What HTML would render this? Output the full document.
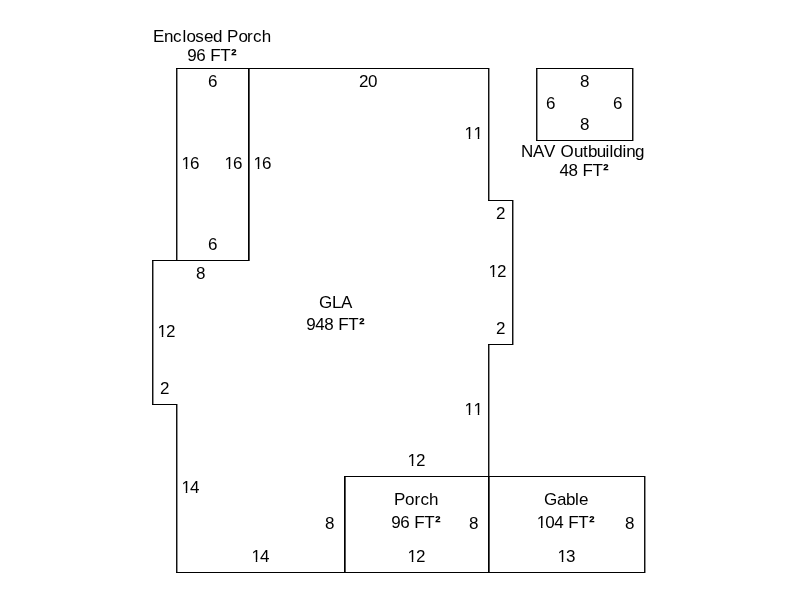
<!DOCTYPE html>
<html lang="en">
<head>
<meta charset="utf-8">
<title>Building Sketch</title>
<style>
html,body{margin:0;padding:0;background:#fff;}
body{width:800px;height:600px;overflow:hidden;}
svg{display:block;}
.walls rect{shape-rendering:crispEdges;}
.labels{filter:grayscale(1);}
.labels text{font-family:"Liberation Sans",Arial,Helvetica,sans-serif;font-size:17px;fill:#000;}
.sq{font-weight:bold;letter-spacing:0;}
</style>
</head>
<body>
<svg width="800" height="600" viewBox="0 0 800 600">
<rect x="0" y="0" width="800" height="600" fill="#ffffff"/>
<defs>
<clipPath id="one0p5_9p5"><rect x="-4" y="-18" width="84" height="15.8"/><rect x="-4" y="-2.2" width="4.49" height="7"/><rect x="4.77" y="-2.2" width="1.5" height="7"/><rect x="13.77" y="-2.2" width="1.5" height="7"/><rect x="19.12" y="-2.2" width="60.88" height="7"/></clipPath>
<clipPath id="one0p5"><rect x="-4" y="-18" width="84" height="15.8"/><rect x="-4" y="-2.2" width="4.49" height="7"/><rect x="4.77" y="-2.2" width="1.5" height="7"/><rect x="10.12" y="-2.2" width="69.88" height="7"/></clipPath>
<clipPath id="one0p75"><rect x="-4" y="-18" width="84" height="15.8"/><rect x="-4" y="-2.2" width="4.74" height="7"/><rect x="5.02" y="-2.2" width="1.5" height="7"/><rect x="10.37" y="-2.2" width="69.63" height="7"/></clipPath>
</defs>
<g class="walls">
<rect x="176" y="68" width="313" height="1" fill="#000000"/>
<rect x="489" y="68" width="1" height="132" fill="#8f8f8f"/>
<rect x="536" y="68" width="97" height="1" fill="#000000"/>
<rect x="633" y="68" width="1" height="73" fill="#8f8f8f"/>
<rect x="176" y="69" width="1" height="191" fill="#111111"/>
<rect x="177" y="69" width="1" height="191" fill="#8f8f8f"/>
<rect x="248" y="69" width="1" height="191" fill="#010101"/>
<rect x="249" y="69" width="1" height="192" fill="#505050"/>
<rect x="488" y="69" width="1" height="131" fill="#111111"/>
<rect x="536" y="69" width="1" height="71" fill="#111111"/>
<rect x="537" y="69" width="1" height="71" fill="#8f8f8f"/>
<rect x="632" y="69" width="1" height="71" fill="#111111"/>
<rect x="536" y="140" width="97" height="1" fill="#000000"/>
<rect x="488" y="200" width="25" height="1" fill="#000000"/>
<rect x="513" y="200" width="1" height="145" fill="#8f8f8f"/>
<rect x="512" y="201" width="1" height="143" fill="#111111"/>
<rect x="152" y="260" width="97" height="1" fill="#000000"/>
<rect x="152" y="261" width="1" height="143" fill="#111111"/>
<rect x="153" y="261" width="1" height="143" fill="#8f8f8f"/>
<rect x="488" y="344" width="25" height="1" fill="#000000"/>
<rect x="488" y="345" width="1" height="131" fill="#111111"/>
<rect x="489" y="345" width="1" height="131" fill="#8f8f8f"/>
<rect x="152" y="404" width="25" height="1" fill="#000000"/>
<rect x="177" y="404" width="1" height="168" fill="#8f8f8f"/>
<rect x="176" y="405" width="1" height="167" fill="#111111"/>
<rect x="344" y="476" width="301" height="1" fill="#000000"/>
<rect x="645" y="476" width="1" height="97" fill="#8f8f8f"/>
<rect x="344" y="477" width="1" height="95" fill="#010101"/>
<rect x="345" y="477" width="1" height="95" fill="#505050"/>
<rect x="488" y="477" width="1" height="95" fill="#010101"/>
<rect x="489" y="477" width="1" height="95" fill="#505050"/>
<rect x="644" y="477" width="1" height="95" fill="#111111"/>
<rect x="176" y="572" width="469" height="1" fill="#000000"/>
</g>
<g class="labels">
<text x="153 164 173 182.5 186.5 195.25 204 213 222 227 238.5 247 253 261.75" y="42">Enclosed Porch</text>
<text x="187.25 196.25 205.25 210.25 220.25" y="61">96 FT<tspan class="sq" x="231">²</tspan></text>
<text x="208" y="87">6</text>
<text x="359 368" y="87">20</text>
<text transform="translate(464 139)" clip-path="url(#one0p5_9p5)" x="0.5 9.5" y="0">11</text>
<text transform="translate(181 169)" clip-path="url(#one0p5)" x="0.5 9" y="0">16</text>
<text transform="translate(224 169)" clip-path="url(#one0p5)" x="0.5 9" y="0">16</text>
<text transform="translate(253 169)" clip-path="url(#one0p5)" x="0.5 9" y="0">16</text>
<text x="208" y="250">6</text>
<text x="196" y="279">8</text>
<text x="496" y="219">2</text>
<text transform="translate(488 277)" clip-path="url(#one0p5)" x="0.5 9" y="0">12</text>
<text x="496" y="334">2</text>
<text x="319 332 341" y="308">GLA</text>
<text x="306.25 315.25 324.25 333.25 338.25 348.25" y="330">948 FT<tspan class="sq" x="359">²</tspan></text>
<text transform="translate(157 337)" clip-path="url(#one0p5)" x="0.5 9" y="0">12</text>
<text x="160" y="394">2</text>
<text transform="translate(464 415)" clip-path="url(#one0p5_9p5)" x="0.5 9.5" y="0">11</text>
<text transform="translate(407 466)" clip-path="url(#one0p5)" x="0.5 9" y="0">12</text>
<text transform="translate(181 493)" clip-path="url(#one0p5)" x="0.5 9" y="0">14</text>
<text x="325" y="529">8</text>
<text x="394 405 414.5 420.5 429" y="505">Porch</text>
<text x="391.25 400.25 409.25 414.25 424.25" y="528">96 FT<tspan class="sq" x="435">²</tspan></text>
<text x="469" y="529">8</text>
<text x="544 557 566 575 579" y="505">Gable</text>
<text transform="translate(536 528)" clip-path="url(#one0p75)" x="0.75 9.25 18.25 27.25 32.25 42.25" y="0">104 FT<tspan class="sq" x="53">²</tspan></text>
<text x="625" y="529">8</text>
<text transform="translate(251 562)" clip-path="url(#one0p5)" x="0.5 9" y="0">14</text>
<text transform="translate(407 562)" clip-path="url(#one0p5)" x="0.5 9" y="0">12</text>
<text transform="translate(557 562)" clip-path="url(#one0p5)" x="0.5 9" y="0">13</text>
<text x="580" y="87">8</text>
<text x="546" y="109">6</text>
<text x="613" y="109">6</text>
<text x="580" y="130">8</text>
<text x="521 533 544 555 560.5 574 583 588 596.75 605.5 609.5 613.25 622.5 626.25 635" y="157">NAV Outbuilding</text>
<text x="559.5 568.5 577.5 582.5 592.5" y="176">48 FT<tspan class="sq" x="603">²</tspan></text>
</g>
</svg>
</body>
</html>
